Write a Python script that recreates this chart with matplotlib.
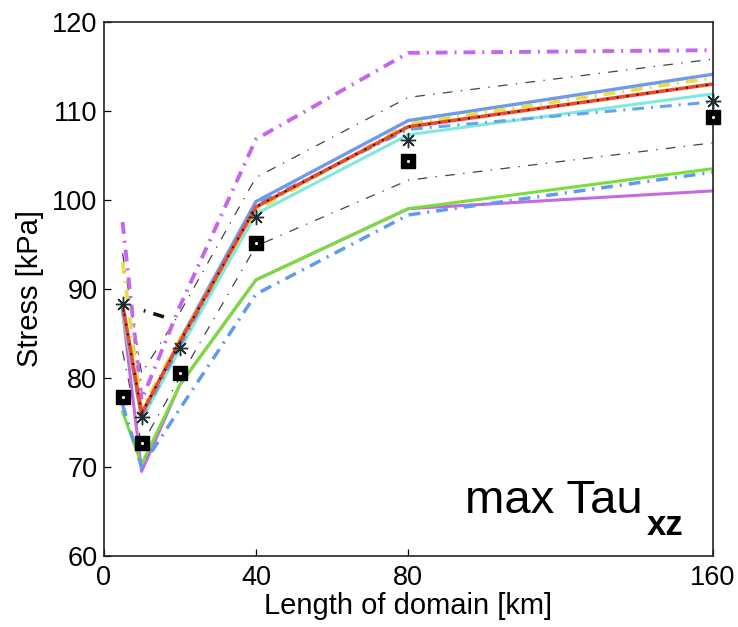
import matplotlib
matplotlib.use("Agg")
import matplotlib.pyplot as plt

plt.rcParams['font.family'] = ['Liberation Sans', 'DejaVu Sans']
plt.rcParams['lines.scale_dashes'] = False

# Domain lengths [km]
domain_km = [5, 10, 20, 40, 80, 160]

# Maximum Tau_xz [kPa] for each model run
violet_dashdot = [97.5, 77.5, 88.0, 106.8, 116.5, 116.8]
gray_upper = [94.0, 80.5, 87.3, 102.5, 111.5, 115.8]
gray_lower = [83.0, 72.5, 80.0, 94.8, 102.2, 106.4]
purple_solid = [87.5, 69.5, 79.2, 91.0, 99.0, 101.0]
green_solid = [76.2, 70.3, 79.2, 91.0, 99.0, 103.5]
blue_dashdot_low = [77.0, 70.0, 76.5, 89.4, 98.3, 103.1]
cyan_solid = [87.3, 75.3, 83.2, 98.4, 107.3, 111.9]
blue_dashdot_high = [88.0, 75.5, 83.5, 99.5, 107.9, 111.0]
blue_solid = [88.0, 75.8, 84.2, 99.8, 108.9, 114.1]
yellow_dashed = [93.0, 76.5, 84.3, 98.8, 108.5, 113.7]
red_solid = [88.3, 76.0, 84.0, 99.2, 108.2, 113.0]

# Short reference segment
ref_km = [5, 20]
ref_vals = [88.3, 86.3]

# Marker-only series
asterisk_vals = [88.3, 75.6, 83.4, 98.1, 106.7, 111.1]
square_vals = [77.9, 72.7, 80.6, 95.1, 104.4, 109.3]

xticks = [0, 40, 80, 160]
yticks = [60, 70, 80, 90, 100, 110, 120]

fig = plt.figure(figsize=(7.38, 6.27), dpi=100)
ax = fig.add_axes([103.5 / 738, 1 - 556 / 627, 609.5 / 738, 534.3 / 627])

dd = (0, (8.5, 5.0, 1.5, 5.0))
thin_dd = (0, (7.0, 6.0, 1.0, 6.0))

ax.plot(domain_km, gray_upper, color='#444444', lw=0.9, ls=thin_dd)
ax.plot(domain_km, gray_lower, color='#444444', lw=0.9, ls=thin_dd)
ax.plot(domain_km, violet_dashdot, color='#C466EE', lw=2.8, ls=dd)
ax.plot(domain_km, purple_solid, color='#C86ADF', lw=2.2)
ax.plot(domain_km, green_solid, color='#7ADD3A', lw=2.2)
ax.plot(domain_km, blue_dashdot_low, color='#5E9BEE', lw=2.5, ls=dd)
ax.plot(domain_km, cyan_solid, color='#7FE9DC', lw=2.2)
ax.plot(domain_km, blue_dashdot_high, color='#66A3EE', lw=2.2, ls=dd)
ax.plot(domain_km, blue_solid, color='#6F9AEB', lw=2.4)
ax.plot(domain_km, yellow_dashed, color='#E8DC4A', lw=2.6, ls=dd)
ax.plot(domain_km, red_solid, color='#EE4A2A', lw=2.6)
ax.plot(domain_km, red_solid, color='#111111', lw=1.4, ls=(0, (1.3, 5.9)))
ax.plot(ref_km, ref_vals, color='#111111', lw=2.6,
        ls=(0, (0.01, 16.0, 1.2, 6.0, 8.0, 40.0)))

ax.plot(domain_km, asterisk_vals, ls='none', marker=(8, 2, 0), ms=11,
        mec='#1e2e2e', mew=1.0, clip_on=False, zorder=5)
ax.plot(domain_km, square_vals, ls='none', marker='s', ms=9.5,
        mfc='black', mec='black', clip_on=False, zorder=6)
ax.plot(domain_km, square_vals, ls='none', marker='o', ms=1.2,
        mfc='white', mec='white', clip_on=False, zorder=7)

ax.set_xlim(0, 160)
ax.set_ylim(60, 120)
ax.set_xticks(xticks)
ax.set_yticks(yticks)
ax.tick_params(direction='in', length=5, width=0.9, labelsize=19.5,
               top=False, right=False)
ax.tick_params(axis='x', pad=6.5)
ax.tick_params(axis='y', pad=4.5)
for s in ax.spines.values():
    s.set_linewidth(1.2)
    s.set_color('#222222')

ax.set_xlabel('Length of domain [km]', fontsize=21, labelpad=1)
ax.set_ylabel('Stress [kPa]', fontsize=21, labelpad=6)

ax.text(0.593, 0.0805, 'max Tau', transform=ax.transAxes, fontsize=34,
        va='baseline', ha='left')
ax.text(0.892, 0.0393, 'xz', transform=ax.transAxes, fontsize=25,
        fontweight='bold', va='baseline', ha='left')

fig.savefig('out.png', dpi=100)
